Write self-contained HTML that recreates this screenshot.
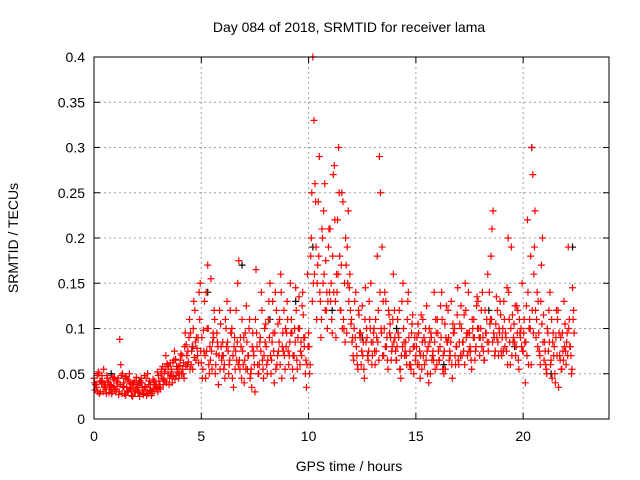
<!DOCTYPE html>
<html><head><meta charset="utf-8"><style>
html,body{margin:0;padding:0;background:#fff;}
svg{display:block;font-family:"Liberation Sans",sans-serif;}
</style></head><body>
<svg id="chart" width="640" height="480" xmlns="http://www.w3.org/2000/svg"></svg>
<script>
const xTicks = [0,5,10,15,20];
const yTicks = [0,0.05,0.1,0.15,0.2,0.25,0.3,0.35,0.4];
const yTickLabels = ["0","0.05","0.1","0.15","0.2","0.25","0.3","0.35","0.4"];
// SRMTID values in milli-TECU, sampled every 0.1 h from 0 h
const redA = [45,38,52,30,41,35,48,29,37,44, 33,40,88,28,36,47,31,39,25,42, 38,30,45,27,35,50,32,28,40,36,
 48,33,58,42,61,38,55,47,66,52, 59,70,45,82,63,95,55,120,78,140, 62,98,45,170,80,55,120,72,38,105,
 85,45,130,60,95,35,75,150,55,110, 40,125,70,50,95,30,80,60,140,45, 105,65,150,85,40,120,75,160,95,55,
 130,70,110,45,145,90,60,125,80,35, 95,180,400,260,150,290,110,230,175,130, 210,95,280,160,300,120,240,85,190,145,
 110,65,140,55,90,125,45,100,75,150, 85,60,180,290,95,70,130,55,105,80, 120,65,90,45,150,75,110,60,95,50,
 70,105,45,85,60,125,40,95,75,55, 110,65,140,50,90,120,70,45,100,80, 60,125,85,150,70,95,55,110,80,130,
 90,140,65,110,85,180,230,75,120,95, 70,130,90,200,60,115,85,125,55,100, 75,40,220,110,300,160,90,130,60,200,
 85,50,120,65,95,40,110,70,55,130, 60,190,80,145];
const redB = [32,48,28,40,55,33,42,38,30,46, 42,27,60,35,45,30,50,26,38,33, 29,42,35,48,26,38,31,44,33,52,
 35,55,44,70,50,62,40,75,58,45, 72,50,95,60,110,75,130,65,90,150, 45,130,75,60,155,95,50,85,120,65,
 55,100,75,120,45,90,65,175,80,60, 95,55,110,35,70,165,50,90,65,100, 60,130,50,95,140,70,110,45,120,80,
 75,150,55,100,65,135,85,115,50,160, 50,250,330,190,240,130,200,260,140,210, 150,270,130,220,180,250,100,170,230,120,
 90,130,70,115,60,85,145,70,110,60, 100,75,120,250,70,140,90,115,65,160, 75,110,55,130,85,70,140,60,115,90,
 90,60,115,70,100,50,85,65,140,95, 75,125,55,105,85,65,130,95,60,145, 105,70,115,90,140,75,100,65,135,90,
 120,75,95,160,105,210,90,135,70,115, 100,80,145,110,190,90,70,120,95,150, 110,125,60,180,270,230,140,75,170,115,
 60,95,140,45,80,120,35,90,75,105, 95,110,50,120];
const redC = [40,35,50,42,30,38,45,33,28,36, 30,45,38,50,28,35,42,32,40,30, 35,25,40,32,45,28,38,30,42,34,
 42,50,38,55,60,45,52,65,48,58, 65,55,80,70,90,60,100,85,70,110, 90,75,140,100,65,85,110,95,70,80,
 70,110,85,65,100,80,120,60,90,75, 65,85,100,55,75,110,60,85,120,70, 80,110,70,130,95,60,85,140,75,100,
 110,85,95,70,120,100,75,140,90,60, 80,200,150,240,170,140,210,160,120,190, 130,180,220,140,250,170,110,200,150,160,
 85,100,80,120,95,70,110,90,130,85, 95,110,85,140,190,100,80,120,90,110, 90,80,120,70,100,85,130,75,105,80,
 80,95,70,110,85,75,100,90,65,110, 95,80,110,75,125,90,85,105,70,115, 85,100,75,120,95,80,110,90,125,100,
 100,90,120,85,140,110,95,105,85,130, 90,110,75,140,100,85,125,95,110,80, 95,85,140,100,120,190,110,95,130,85,
 75,100,85,110,70,90,120,65,95,80, 85,100,70,110];
const redD = [38,30,42,48,36,28,40,35,46,32, 36,30,48,40,26,44,34,38,30,46, 32,40,28,36,30,42,26,34,38,30,
 38,45,52,40,58,48,62,44,55,50, 50,62,58,75,55,80,68,90,62,75, 55,70,100,50,75,90,60,80,55,70,
 60,80,50,95,70,55,85,65,45,90, 55,70,45,80,60,95,50,75,55,85, 50,90,65,75,55,105,60,80,70,95,
 60,95,70,85,55,100,70,90,65,80, 60,130,160,110,180,90,150,120,100,140, 110,140,90,160,120,100,150,95,130,105,
 70,90,60,95,75,55,85,65,100,70, 75,90,65,100,130,80,65,95,75,85, 65,95,55,80,70,60,90,55,80,65,
 60,75,55,90,65,80,50,70,85,60, 65,90,70,55,85,75,60,95,80,65, 70,85,60,95,75,65,90,75,100,70,
 80,65,95,75,110,85,70,90,100,75, 75,95,60,85,70,105,80,65,90,75, 85,70,100,60,95,120,80,70,105,65,
 55,75,60,85,50,70,95,55,65,75, 70,80,55,95];
const blackT = [0.8,2.1,4.6,5.3,6.9,8.2,9.4,10.2,11.1,12.5,14.1,16.3,18.4,19.6,20.4,21.3,22.3];
const blackV = [0.05,0.04,0.08,0.14,0.17,0.11,0.13,0.19,0.12,0.09,0.1,0.06,0.12,0.08,0.3,0.05,0.19];

const NS="http://www.w3.org/2000/svg";
const svg=document.getElementById('chart');
const L=94,T=57,R=609,B=419;
const X=h=>L+(h/24)*(R-L);
const Y=v=>B-(v/0.4)*(B-T);
function mk(tag,at,parent){const e=document.createElementNS(NS,tag);for(const k in at)e.setAttribute(k,at[k]);(parent||svg).appendChild(e);return e;}

const grid=mk('g',{});


xTicks.forEach((t,i)=>{
  if(t>0) mk('line',{x1:X(t),x2:X(t),y1:T,y2:B,stroke:'#a0a0a0','stroke-dasharray':'2,3','stroke-width':1},grid);
  mk('line',{x1:X(t),x2:X(t),y1:B,y2:B-6,stroke:'#000'},grid);
  mk('line',{x1:X(t),x2:X(t),y1:T,y2:T+6,stroke:'#000'},grid);
  const tx=mk('text',{x:X(t),y:B+22,'text-anchor':'middle','font-size':14,fill:'#000'});
  tx.textContent=t;
  
  
});
yTicks.forEach((v,i)=>{
  if(v>0 && v<0.4) mk('line',{x1:L,x2:R,y1:Y(v),y2:Y(v),stroke:'#a0a0a0','stroke-dasharray':'2,3','stroke-width':1},grid);
  mk('line',{x1:L,x2:L+6,y1:Y(v),y2:Y(v),stroke:'#000'},grid);
  mk('line',{x1:R,x2:R-6,y1:Y(v),y2:Y(v),stroke:'#000'},grid);
  const tx=mk('text',{x:L-9,y:Y(v)+5,'text-anchor':'end','font-size':14,fill:'#000'});
  tx.textContent=yTickLabels[i];
  
  
});

function plus(h,v,col,g){
  const x=X(h),y=Y(v);
  mk('path',{d:`M${x-3.5},${y}H${x+3.5}M${x},${y-3.5}V${y+3.5}`,stroke:col,'stroke-width':1.2,fill:'none'},g);
}
const sBlack=mk('g',{});


blackT.forEach((t,i)=>plus(t,blackV[i],'#000',sBlack));
const sRed=mk('g',{});


redA.forEach((v,i)=>plus(i*0.1,v/1000,'#f00',sRed));
redB.forEach((v,i)=>plus(i*0.1+0.05,v/1000,'#f00',sRed));
redC.forEach((v,i)=>plus(i*0.1+0.025,v/1000,'#f00',sRed));
redD.forEach((v,i)=>plus(i*0.1+0.075,v/1000,'#f00',sRed));

const frame=mk('rect',{x:L,y:T,width:R-L,height:B-T,fill:'none',stroke:'#000','stroke-width':1});



const title=mk('text',{x:349,y:32,'text-anchor':'middle','font-size':14,fill:'#000'});
title.textContent='Day 084 of 2018, SRMTID for receiver lama';


const xl=mk('text',{x:349,y:471,'text-anchor':'middle','font-size':14,fill:'#000'});
xl.textContent='GPS time / hours';


const yl=mk('text',{x:0,y:0,'text-anchor':'middle','font-size':14,fill:'#000',transform:'translate(18,238) rotate(-90)'});
yl.textContent='SRMTID / TECUs';


</script>
</body></html>
